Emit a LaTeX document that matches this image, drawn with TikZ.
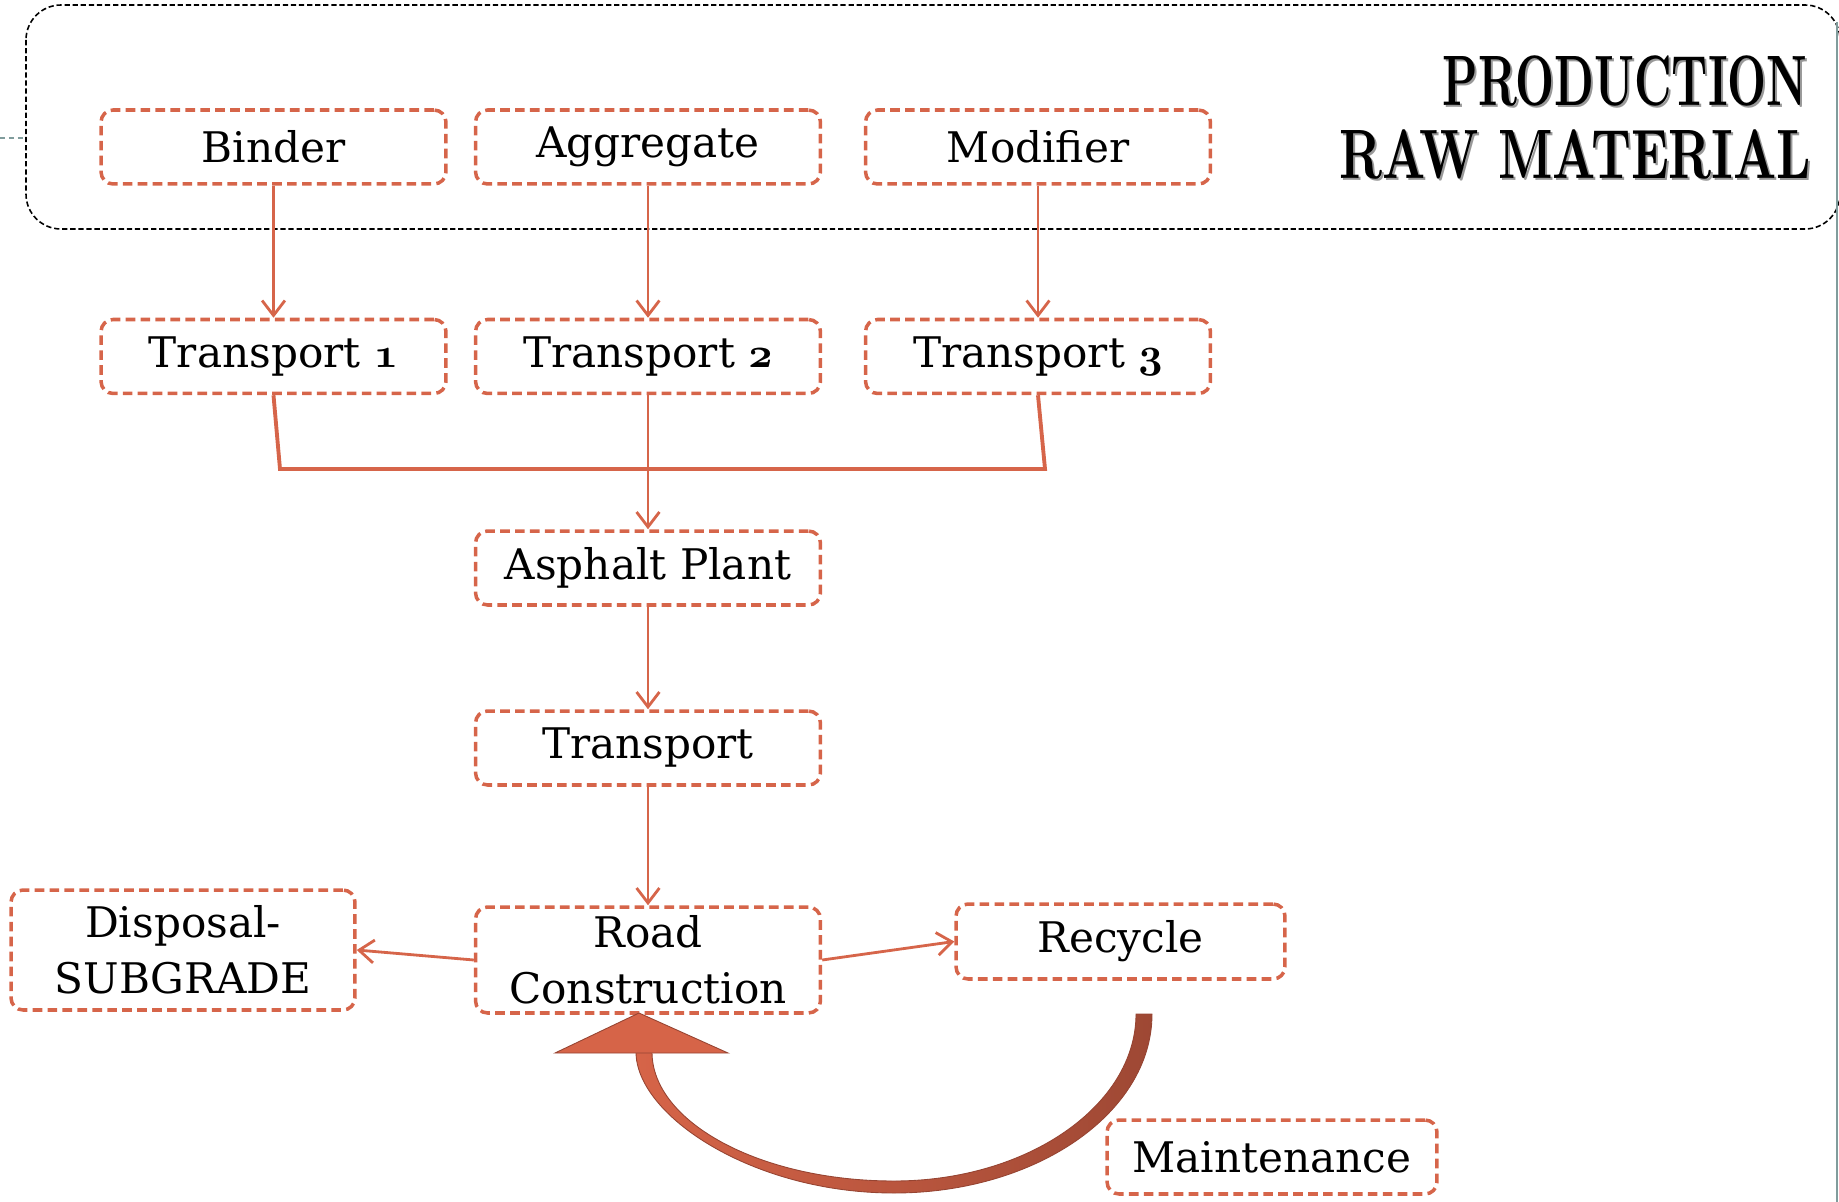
\RequirePackage{fix-cm}
\documentclass[tikz,border=0pt]{standalone}
\usepackage{fontspec}
\setmainfont{DejaVu Serif}
\usetikzlibrary{arrows.meta}

\definecolor{accent}{RGB}{214,101,74}
\definecolor{ribbonlight}{RGB}{214,100,72}
\definecolor{ribbondark}{RGB}{158,72,52}
\definecolor{ribbonedge}{RGB}{150,68,50}
\definecolor{guide}{RGB}{128,156,156}

% hanging figures for the numbered transport legs
\newcommand{\osf}[1]{{\usefont{OML}{cmm}{b}{it}#1}}

\tikzset{
  stagebox/.style={draw=accent, line width=2pt, dash pattern=on 5.5pt off 3pt,
    rounded corners=0.24cm, inner sep=0pt, align=center,
    minimum width=6.9cm, minimum height=1.48cm,
    font=\fontsize{24}{32}\selectfont},
  flow/.style={draw=accent, line width=1.6pt,
    -{Straight Barb[length=8.5pt,width=13pt,line width=1.6pt]}},
  joint/.style={draw=accent, line width=2.2pt},
  groupframe/.style={draw=black, line width=0.9pt, dash pattern=on 3pt off 1.6pt,
    rounded corners=0.7cm},
  titletext/.style={inner sep=0pt, font=\usefont{OT1}{cmr}{bx}{n}}
}

\newcommand{\engraved}[3]{% width, height, text
  \resizebox{#1}{#2}{#3}}

\begin{document}
\begin{tikzpicture}[x=0.02cm,y=-0.02cm]
  \useasboundingbox (0,0) rectangle (1839,1202);

  % raw material group
  \draw[groupframe] (26,5) rectangle (1840,229);
  \draw[guide, line width=1.2pt, dash pattern=on 3pt off 2pt] (0,138) -- (25,138);
  \draw[guide, line width=1.5pt] (1837,22) -- (1837,1202);

  % heading
  \node[titletext, anchor=base east, text=black!40] at (1810,108)
    {\engraved{7.3cm}{0.98cm}{PRODUCTION}};
  \node[titletext, anchor=base east] at (1808,106)
    {\engraved{7.3cm}{0.98cm}{PRODUCTION}};
  \node[titletext, anchor=base east, text=black!40] at (1814,181)
    {\engraved{9.44cm}{0.96cm}{RAW MATERIAL}};
  \node[titletext, anchor=base east] at (1812,179)
    {\engraved{9.44cm}{0.96cm}{RAW MATERIAL}};

  % stages
  \node[stagebox] (binder)    at (273.5,147) {Binder};
  \node[stagebox] (aggregate) at (648,147)   {Aggregate};
  \node[stagebox] (modifier)  at (1038,147)  {Modifier};

  \node[stagebox] (tra) at (273.5,356.5) {Transport \osf{1}};
  \node[stagebox] (trb) at (648,356.5)   {Transport \osf{2}};
  \node[stagebox] (trc) at (1038,356.5)  {Transport \osf{3}};

  \node[stagebox] (plant)     at (648,568) {Asphalt Plant};
  \node[stagebox] (transport) at (648,748) {Transport};
  \node[stagebox, minimum height=2.12cm] (road) at (648,960)
    {Road\\Construction};
  \node[stagebox, minimum width=6.88cm, minimum height=2.4cm] (disposal)
    at (183,950) {Disposal-\\SUBGRADE};
  \node[stagebox, minimum width=6.58cm, minimum height=1.5cm] (recycle)
    at (1120.5,941.5) {Recycle};
  \node[stagebox, minimum width=6.6cm] (maint) at (1272,1157) {Maintenance};

  % connectors
  \draw[flow] (binder) -- (tra);
  \draw[flow] (aggregate) -- (trb);
  \draw[flow] (modifier) -- (trc);

  \coordinate (jl) at (280,469);
  \coordinate (jr) at (1045,469);
  \draw[joint] (tra.south) -- (jl) -- (jr) -- (trc.south);
  \draw[flow] (trb) -- (plant);
  \draw[flow] (plant) -- (transport);
  \draw[flow] (transport) -- (road);
  \draw[flow] (road.west) -- (disposal.east);
  \draw[flow] (road.east) -- (recycle.west);

  % maintenance loop back to construction
  \path[left color=ribbonlight, right color=ribbondark, draw=ribbonedge, line width=0.5pt]
    (1152,1014) .. controls (1152,1113) and (1036,1193) .. (894,1193)
    .. controls (752,1193) and (636,1115) .. (636,1052)
    -- (652,1052)
    .. controls (652,1122) and (760,1181) .. (894,1181)
    .. controls (1028,1181) and (1136,1105) .. (1136,1014)
    -- cycle;
  \path[fill=ribbonlight, draw=ribbonedge, line width=0.5pt]
    (555,1053) -- (639,1013) -- (728,1053) -- cycle;
\end{tikzpicture}
\end{document}
